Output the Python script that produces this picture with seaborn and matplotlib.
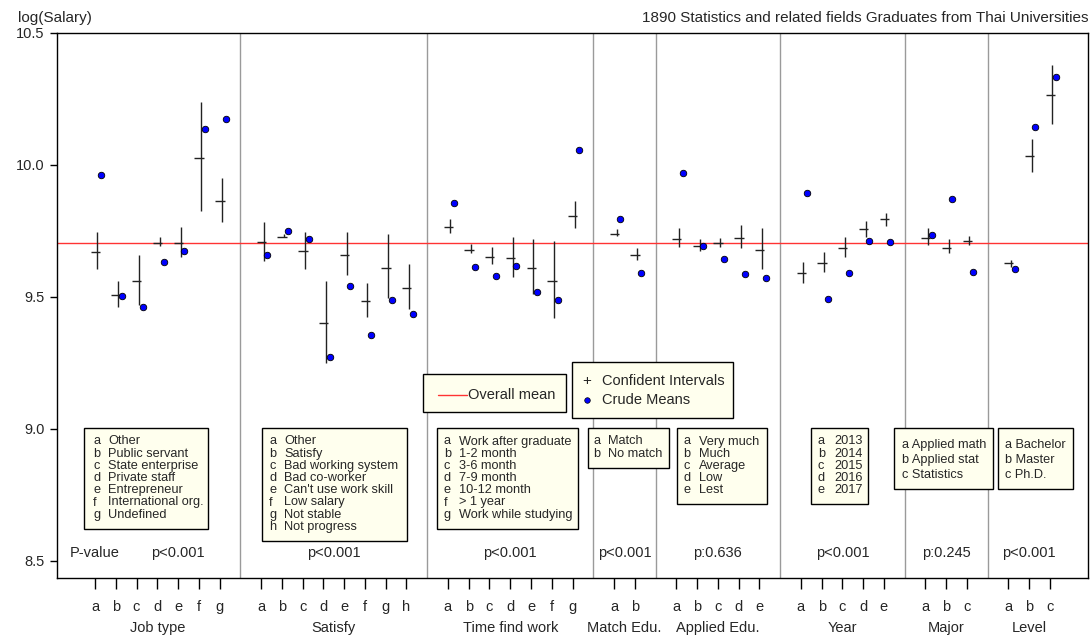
import matplotlib
matplotlib.use("Agg")
import matplotlib.pyplot as plt
import numpy as np
import pandas as pd
import seaborn as sns
from matplotlib.patches import Rectangle
from matplotlib.lines import Line2D

# ---- data ----
group_names = ["Job type", "Satisfy", "Time find work", "Match Edu.",
               "Applied Edu.", "Year", "Major", "Level"]
group_sizes = [7, 8, 7, 2, 5, 5, 3, 3]
p_values = ["p<0.001", "p<0.001", "p<0.001", "p<0.001",
            "p:0.636", "p<0.001", "p:0.245", "p<0.001"]
overall_mean = 9.706

ci_mean = [
    9.670, 9.508, 9.561, 9.706, 9.706, 10.025, 9.864,          # job type
    9.709, 9.728, 9.675, 9.403, 9.660, 9.486, 9.610, 9.535,    # satisfy
    9.765, 9.679, 9.653, 9.649, 9.611, 9.561, 9.807,          # time find work
    9.740, 9.659,                                              # match edu
    9.721, 9.694, 9.706, 9.725, 9.679,                         # applied edu
    9.591, 9.630, 9.687, 9.759, 9.794,                         # year
    9.725, 9.687, 9.713,                                       # major
    9.628, 10.034, 10.265,                                     # level
]
ci_low = [
    9.605, 9.463, 9.469, 9.693, 9.650, 9.825, 9.783,
    9.636, 9.726, 9.605, 9.249, 9.582, 9.423, 9.495, 9.453,
    9.744, 9.666, 9.624, 9.575, 9.511, 9.419, 9.760,
    9.731, 9.640,
    9.688, 9.673, 9.691, 9.684, 9.605,
    9.554, 9.594, 9.653, 9.728, 9.770,
    9.696, 9.666, 9.696,
    9.615, 9.975, 10.154,
]
ci_high = [
    9.747, 9.559, 9.658, 9.726, 9.766, 10.239, 9.952,
    9.785, 9.737, 9.747, 9.562, 9.747, 9.554, 9.737, 9.626,
    9.794, 9.701, 9.688, 9.728, 9.718, 9.713, 9.862,
    9.756, 9.684,
    9.760, 9.721, 9.725, 9.774, 9.763,
    9.634, 9.672, 9.728, 9.789, 9.819,
    9.763, 9.718, 9.732,
    9.640, 10.100, 10.379,
]
crude_mean = [
    9.962, 9.505, 9.462, 9.633, 9.674, 10.135, 10.173,
    9.659, 9.751, 9.720, 9.274, 9.542, 9.357, 9.490, 9.437,
    9.857, 9.615, 9.581, 9.619, 9.520, 9.489, 10.057,
    9.795, 9.592,
    9.970, 9.693, 9.645, 9.587, 9.573,
    9.895, 9.492, 9.591, 9.713, 9.708,
    9.735, 9.871, 9.595,
    9.607, 10.144, 10.332,
]

job_keys = ["Other", "Public servant", "State enterprise", "Private staff",
            "Entrepreneur", "International org.", "Undefined"]
satisfy_keys = ["Other", "Satisfy", "Bad working system", "Bad co-worker",
                "Can't use work skill", "Low salary", "Not stable", "Not progress"]
time_keys = ["Work after graduate", "1-2 month", "3-6 month", "7-9 month",
             "10-12 month", "> 1 year", "Work while studying"]
match_keys = ["Match", "No match"]
applied_keys = ["Very much", "Much", "Average", "Low", "Lest"]
year_keys = ["2013", "2014", "2015", "2016", "2017"]
major_keys = ["Applied math", "Applied stat", "Statistics"]
level_keys = ["Bachelor", "Master", "Ph.D."]

# ---- positions: one empty slot between groups ----
rows = []
separators = []
centers = []
start = 0
for name, n in zip(group_names, group_sizes):
    for k in range(n):
        rows.append({"group": name, "letter": "abcdefgh"[k], "pos": start + k})
    centers.append(start + (n - 1) / 2)
    separators.append(start + n)
    start += n + 1
separators = separators[:-1]

df = pd.DataFrame(rows)
df["mean"] = ci_mean
df["low"] = ci_low
df["high"] = ci_high
df["crude"] = crude_mean
df["dot_x"] = df["pos"] + 0.3

sns.set_style("ticks")
plt.rcParams["font.family"] = ["Liberation Sans", "DejaVu Sans"]

W, H = 1092, 637
fig = plt.figure(figsize=(W / 100, H / 100), dpi=100)
ax = fig.add_axes([57 / W, (H - 578) / H, (1088 - 57) / W, (578 - 33) / H])


def fxy(px, py):
    return px / W, 1 - py / H


ax.set_xlim(-1.83, 47.83)
ax.set_ylim(8.4356, 10.5)

for s in separators:
    ax.axvline(s, color="#9a9a9a", lw=1, zorder=1)
ax.axhline(overall_mean, color="#ff3333", lw=1, zorder=2)

ax.vlines(df["pos"] + 0.12, df["low"], df["high"], color="#222222", lw=1, zorder=3)
ax.hlines(df["mean"], df["pos"] - 0.21, df["pos"] + 0.24, color="#222222", lw=1, zorder=3)
sns.scatterplot(data=df, x="dot_x", y="crude", ax=ax, color="blue",
                edgecolor="black", linewidth=0.6, s=22, zorder=4, legend=False)

for sp in ax.spines.values():
    sp.set_color("black")
    sp.set_linewidth(1)

ax.set_yticks([8.5, 9.0, 9.5, 10.0, 10.5])
ax.set_yticklabels(["8.5", "9.0", "9.5", "10.0", "10.5"], fontsize=10.5)
ax.set_xticks(df["pos"])
ax.set_xticklabels(df["letter"], fontsize=10.5)
ax.tick_params(axis="y", length=5, width=1, pad=4, color="black")
ax.tick_params(axis="x", length=8, width=1, pad=8, color="black")
ax.set_xlabel("")
ax.set_ylabel("")

for name, c in zip(group_names, centers):
    ax.text(c, -0.092, name, transform=ax.get_xaxis_transform(),
            ha="center", va="center", fontsize=10.5)

# p-values row
ax.text(0, 8.53, "P-value", ha="center", va="center", fontsize=10.5)
p_x = [4.0] + centers[1:]
for x, p in zip(p_x, p_values):
    ax.text(x, 8.53, p, ha="center", va="center", fontsize=10.5)

fig.text(18 / W, 1 - 18 / H, "log(Salary)", ha="left", va="center", fontsize=11)
fig.text(1088 / W, 1 - 18 / H,
         "1890 Statistics and related fields Graduates from Thai Universities",
         ha="right", va="center", fontsize=11)

box_fill = "#ffffee"


def draw_box(left, top, right, bottom):
    x0, y0 = fxy(left, bottom)
    x1, y1 = fxy(right, top)
    fig.patches.append(Rectangle((x0, y0), x1 - x0, y1 - y0, transform=fig.transFigure,
                                 facecolor=box_fill, edgecolor="black", lw=1, zorder=5))


def key_box(left, right, keys, letter_dx=7, text_dx=22, split=True):
    top = 428
    line_h = 12.2 if split else 15.2
    first = 13.5 if split else 17
    bottom = top + first + (len(keys) - 1) * line_h + 14
    draw_box(left, top, right, bottom)
    for i, k in enumerate(keys):
        py = top + first + i * line_h
        letter = "abcdefgh"[i]
        if split:
            fig.text(*fxy(left + letter_dx, py), letter, ha="left", va="center",
                     fontsize=9.2, zorder=6)
            fig.text(*fxy(left + text_dx, py), k, ha="left", va="center",
                     fontsize=9.2, zorder=6)
        else:
            fig.text(*fxy(left + letter_dx, py), f"{letter} {k}", ha="left",
                     va="center", fontsize=9.2, zorder=6)


key_box(84, 208, job_keys, letter_dx=9, text_dx=24)
key_box(262, 407, satisfy_keys)
key_box(437, 578, time_keys)
key_box(588, 669, match_keys, letter_dx=5, text_dx=20)
key_box(677, 767, applied_keys, letter_dx=6)
key_box(811, 868, year_keys, text_dx=23)
key_box(894, 993, major_keys, letter_dx=8, split=False)
key_box(998, 1073, level_keys, letter_dx=7, split=False)

# legend: overall mean
draw_box(423, 374, 566, 412)
fig.lines.append(Line2D([438 / W, 467 / W], [1 - 395 / H, 1 - 395 / H],
                        transform=fig.transFigure, color="#ff3333", lw=1, zorder=6))
fig.text(*fxy(468, 395), "Overall mean", ha="left", va="center", fontsize=10.5, zorder=6)

# legend: CI and crude means
draw_box(572, 362, 733, 418)
fig.text(*fxy(587, 381), "+", ha="center", va="center", fontsize=11, zorder=6)
fig.text(*fxy(602, 381), "Confident Intervals", ha="left", va="center", fontsize=10.5, zorder=6)
fig.lines.append(Line2D([587 / W], [1 - 400 / H], transform=fig.transFigure,
                        marker="o", markersize=4, color="blue", markeredgecolor="black",
                        markeredgewidth=0.5, linestyle="none", zorder=6))
fig.text(*fxy(602, 400), "Crude Means", ha="left", va="center", fontsize=10.5, zorder=6)

fig.savefig("out.png", dpi=100)
